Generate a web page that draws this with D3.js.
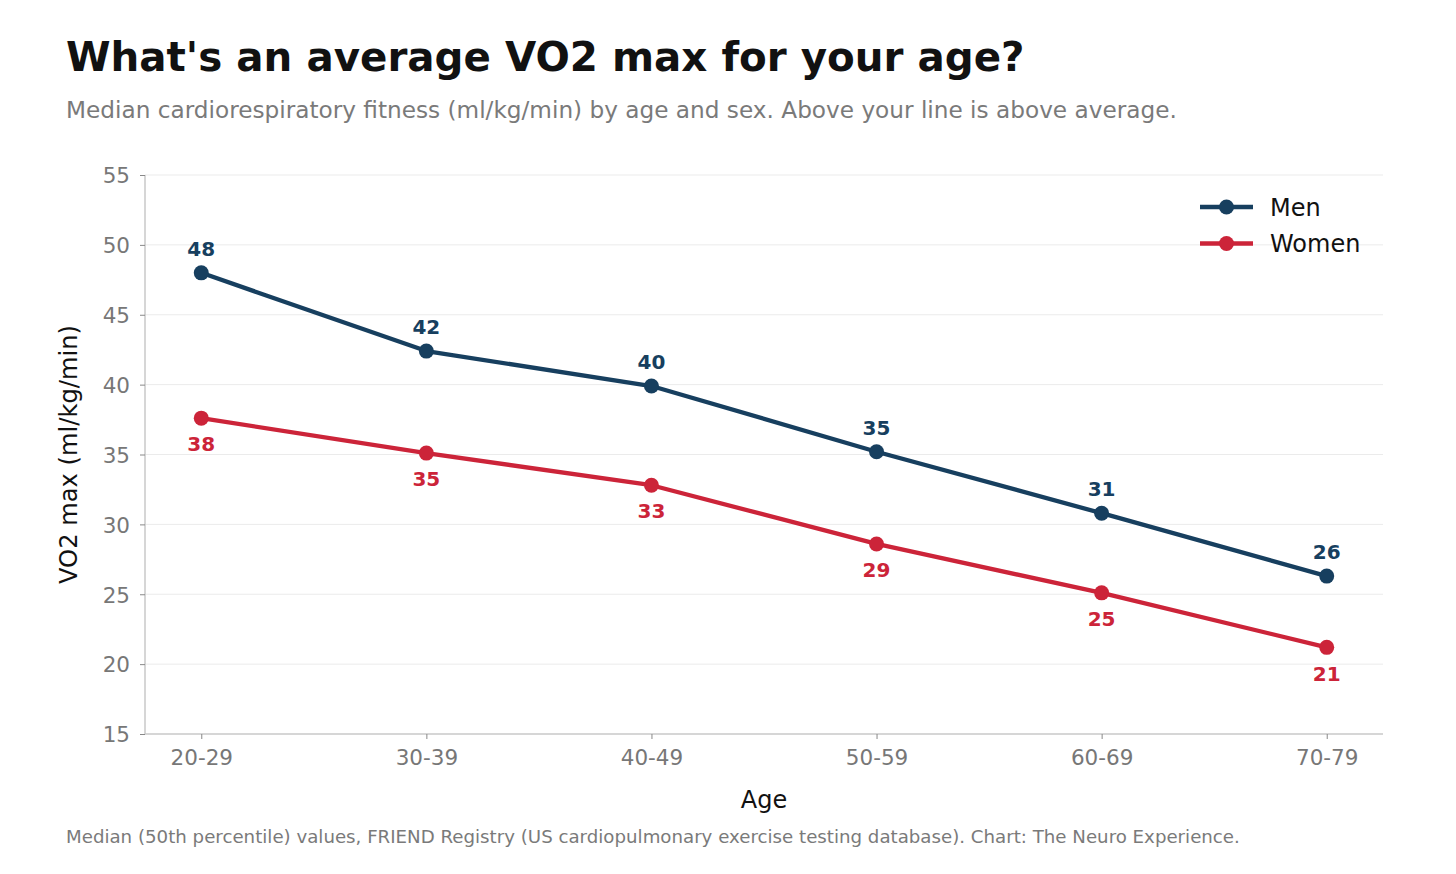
<!DOCTYPE html>
<html>
<head>
<meta charset="utf-8">
<script src="https://cdn.jsdelivr.net/npm/d3@7"></script>
<style>
  body { margin: 0; background: #fff; }
  svg { display: block; font-family: "DejaVu Sans", sans-serif; }
</style>
</head>
<body>
<svg id="chart" width="1456" height="874"></svg>
<script>
const ageGroups = ["20-29", "30-39", "40-49", "50-59", "60-69", "70-79"];
const menValues = [48.0, 42.4, 39.9, 35.2, 30.8, 26.3];
const womenValues = [37.6, 35.1, 32.8, 28.6, 25.1, 21.2];
const yTicks = [15, 20, 25, 30, 35, 40, 45, 50, 55];

const series = [
    { name: "Men", values: menValues, color: "#173f5f", labelDy: -24 },
    { name: "Women", values: womenValues, color: "#cc2439", labelDy: 26 }
];

const svg = d3.select("#chart");
const plot = { left: 145, right: 1383, top: 175, bottom: 734 };

const x = d3.scaleLinear().domain([-0.25, ageGroups.length - 0.75]).range([plot.left, plot.right]);
const y = d3.scaleLinear().domain([15, 55]).range([plot.bottom, plot.top]);

// titles
svg.append("text").attr("x", 66).attr("y", 71)
    .attr("font-size", 40.4).attr("font-weight", "bold").attr("fill", "#111")
    .text("What's an average VO2 max for your age?");
svg.append("text").attr("x", 66).attr("y", 118)
    .attr("font-size", 23.2).attr("fill", "#7a7a7a")
    .text("Median cardiorespiratory fitness (ml/kg/min) by age and sex. Above your line is above average.");

// grid
svg.append("g").selectAll("line")
    .data(yTicks.slice(1))
    .enter().append("line")
    .attr("x1", plot.left).attr("x2", plot.right)
    .attr("y1", d => y(d)).attr("y2", d => y(d))
    .attr("stroke", "#ebebeb").attr("stroke-width", 1);

// axes
const yAxis = svg.append("g")
    .attr("transform", `translate(${plot.left},0)`)
    .call(d3.axisLeft(y).tickValues(yTicks).tickSize(5).tickPadding(10));
const xAxis = svg.append("g")
    .attr("transform", `translate(0,${plot.bottom})`)
    .call(d3.axisBottom(x).tickValues(d3.range(ageGroups.length)).tickFormat(i => ageGroups[i]).tickSize(5).tickPadding(11));

[yAxis, xAxis].forEach(g => {
    g.select(".domain").attr("stroke", "#c8c8c8").attr("stroke-width", 1.5);
    g.selectAll(".tick line").attr("stroke", "#888");
    g.selectAll(".tick text").attr("fill", "#777").attr("font-size", 21.5)
        .attr("font-family", "DejaVu Sans, sans-serif");
});
xAxis.select(".domain").attr("d", `M${plot.left},0H${plot.right}`);
yAxis.select(".domain").attr("d", `M0,${plot.bottom}V${plot.top}`);
yAxis.selectAll(".tick text").attr("dy", "0.36em");

// axis labels
svg.append("text")
    .attr("transform", `translate(77,${(plot.top + plot.bottom) / 2}) rotate(-90)`)
    .attr("text-anchor", "middle").attr("font-size", 24.2).attr("fill", "#111")
    .text("VO2 max (ml/kg/min)");
svg.append("text")
    .attr("x", (plot.left + plot.right) / 2).attr("y", 808)
    .attr("text-anchor", "middle").attr("font-size", 24).attr("fill", "#111")
    .text("Age");

// lines
const line = d3.line().x((d, i) => x(i)).y(d => y(d));

series.forEach(s => {
    const g = svg.append("g");
    g.append("path").datum(s.values)
        .attr("d", line).attr("fill", "none")
        .attr("stroke", s.color).attr("stroke-width", 4.3).attr("stroke-linejoin", "round");
    g.selectAll("circle").data(s.values).enter().append("circle")
        .attr("cx", (d, i) => x(i)).attr("cy", d => y(d)).attr("r", 7.5)
        .attr("fill", s.color);
    g.selectAll("text").data(s.values).enter().append("text")
        .attr("x", (d, i) => x(i)).attr("y", d => y(d) + s.labelDy)
        .attr("dy", "0.36em").attr("text-anchor", "middle")
        .attr("font-size", 20).attr("font-weight", "bold").attr("fill", s.color)
        .text(d => Math.round(d));
});

// legend
const legend = svg.append("g").attr("transform", "translate(1200,207)");
series.forEach((s, i) => {
    const row = legend.append("g").attr("transform", `translate(0,${i * 36.5})`);
    row.append("line").attr("x1", 0).attr("x2", 53).attr("stroke", s.color).attr("stroke-width", 4.3);
    row.append("circle").attr("cx", 26.5).attr("r", 7.5).attr("fill", s.color);
    row.append("text").attr("x", 70).attr("dy", "0.36em")
        .attr("font-size", 24).attr("fill", "#111").text(s.name);
});

// footnote
svg.append("text").attr("x", 66).attr("y", 843)
    .attr("font-size", 18.2).attr("fill", "#7a7a7a")
    .text("Median (50th percentile) values, FRIEND Registry (US cardiopulmonary exercise testing database). Chart: The Neuro Experience.");
</script>
</body>
</html>
